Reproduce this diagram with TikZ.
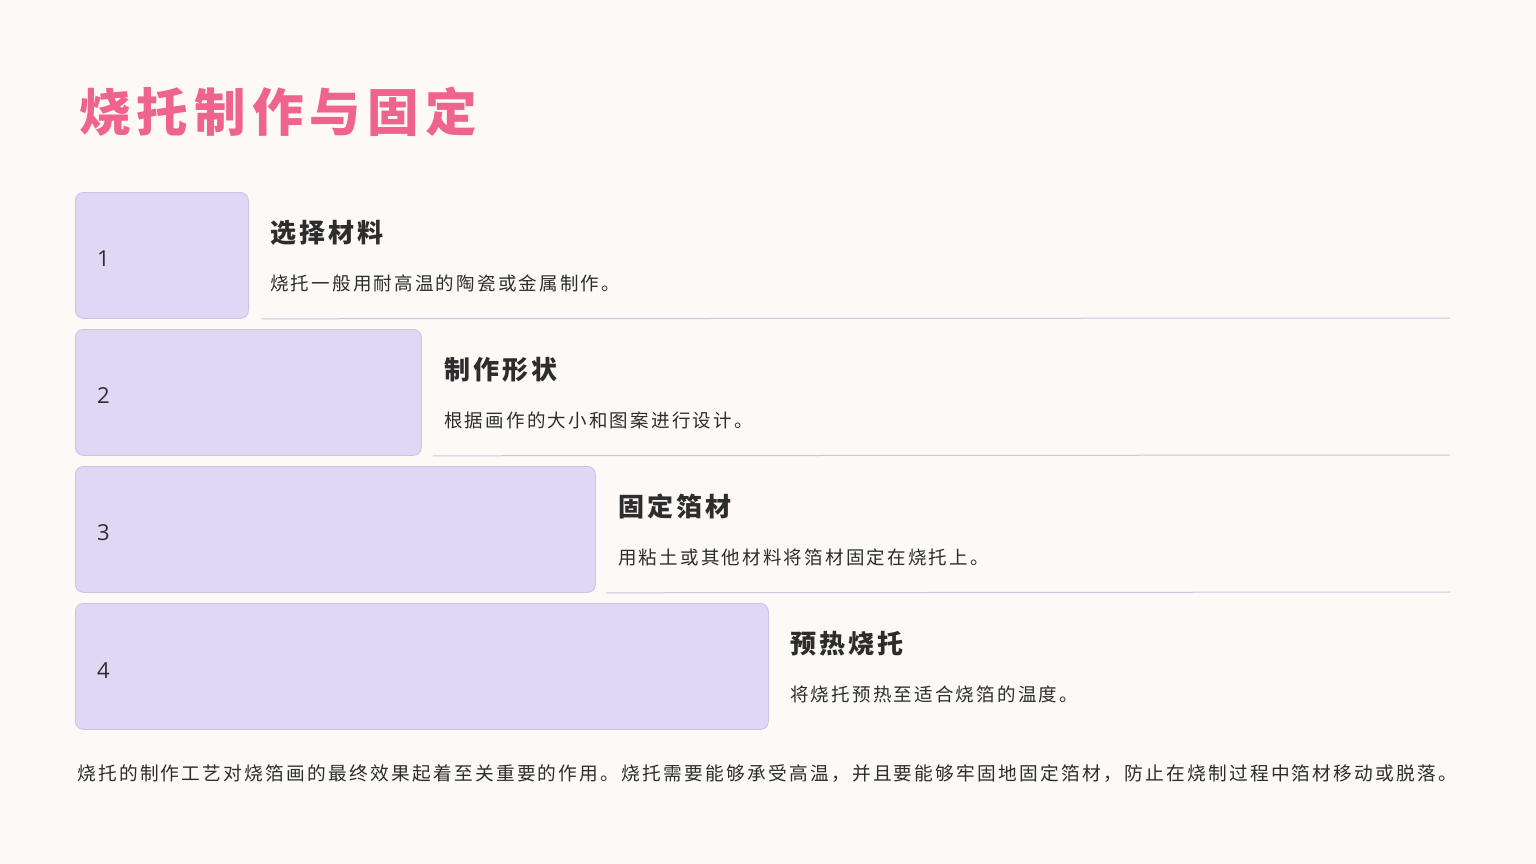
\documentclass[tikz,border=0pt]{standalone}
\usepackage{fontspec}
\setsansfont{Open Sans}
\newfontfamily\cjk[LetterSpace=12]{Noto Sans CJK SC}
\usetikzlibrary{positioning}

\definecolor{pagebg}{RGB}{253,249,247}
\definecolor{titlepink}{RGB}{238,100,142}
\definecolor{boxfill}{RGB}{223,215,244}
\definecolor{boxline}{RGB}{204,193,232}
\definecolor{ruleline}{RGB}{205,197,226}
\definecolor{inktext}{RGB}{45,45,45}

\tikzset{
  stepbox/.style={rectangle, rounded corners=8pt, fill=boxfill, draw=boxline,
    line width=0.8pt, anchor=north west, minimum height=126pt},
  stepnum/.style={anchor=base west, inner sep=0, text=inktext,
    font=\sffamily\fontsize{22}{26}\selectfont},
  stephead/.style={anchor=base west, inner sep=0, text=inktext,
    font=\cjk\bfseries\fontsize{26}{30}\selectfont},
  stepdesc/.style={anchor=base west, inner sep=0, text=inktext,
    font=\cjk\fontsize{18.5}{22}\selectfont},
  steprule/.style={draw=ruleline, line width=1pt}
}

\begin{document}
\begin{tikzpicture}[x=1pt, y=-1pt]
    \fill[pagebg] (0,0) rectangle (1536,864);
    \useasboundingbox (0,0) rectangle (1536,864);

    \node[anchor=base west, inner sep=0, text=titlepink,
    font=\cjk\bfseries\fontsize{51.5}{60}\selectfont] (title) at (79,131.5) {烧托制作与固定};

    % step 1
    \node[stepbox, minimum width=173pt] (box1) at (75,192) {};
    \node[stepnum] (num1) at (97,266) {1};
    \node[stephead] (head1) at (270,242) {选择材料};
    \node[stepdesc] (desc1) at (270,290) {烧托一般用耐高温的陶瓷或金属制作。};
    \coordinate (end1) at (1450,318);
    \draw[steprule] ([xshift=12pt]box1.south east) -- (end1);

    % step 2
    \node[stepbox, minimum width=346pt] (box2) at (75,329) {};
    \node[stepnum] (num2) at (97,403) {2};
    \node[stephead] (head2) at (444,379) {制作形状};
    \node[stepdesc] (desc2) at (444,427) {根据画作的大小和图案进行设计。};
    \coordinate (end2) at (1450,455);
    \draw[steprule] ([xshift=11pt]box2.south east) -- (end2);

    % step 3
    \node[stepbox, minimum width=520pt] (box3) at (75,466) {};
    \node[stepnum] (num3) at (97,540) {3};
    \node[stephead] (head3) at (618,516) {固定箔材};
    \node[stepdesc] (desc3) at (618,564) {用粘土或其他材料将箔材固定在烧托上。};
    \coordinate (end3) at (1450,592);
    \draw[steprule] ([xshift=10pt]box3.south east) -- (end3);

    % step 4
    \node[stepbox, minimum width=693pt] (box4) at (75,603) {};
    \node[stepnum] (num4) at (97,678) {4};
    \node[stephead] (head4) at (790,653) {预热烧托};
    \node[stepdesc] (desc4) at (790,701) {将烧托预热至适合烧箔的温度。};

    \node[stepdesc, font=\cjk\fontsize{18.7}{22}\selectfont] (summary) at (77,780)
    {烧托的制作工艺对烧箔画的最终效果起着至关重要的作用。烧托需要能够承受高温，并且要能够牢固地固定箔材，防止在烧制过程中箔材移动或脱落。};
\end{tikzpicture}
\end{document}
